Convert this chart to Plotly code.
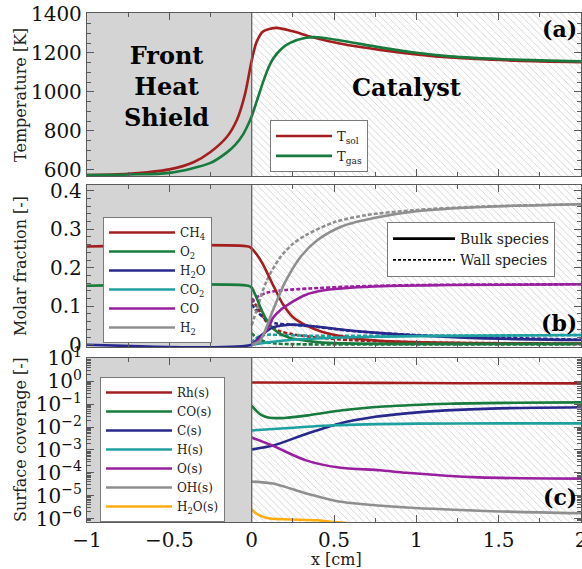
import numpy as np
import plotly.graph_objects as go
from plotly.subplots import make_subplots

# ---------------- (a) temperatures ----------------
x_tsol = [-1, -0.75, -0.5, -0.35, -0.25, -0.15, -0.09, -0.04, 0, 0.03, 0.07, 0.15, 0.25, 0.37, 0.55, 0.78, 1.0, 1.2, 1.6, 2.0]
t_sol = [574, 580, 603, 641, 692, 770, 856, 990, 1160, 1256, 1310, 1328, 1310, 1280, 1245, 1215, 1192, 1176, 1160, 1152]
x_tgas = [-1, -0.75, -0.5, -0.25, -0.15, -0.1, -0.05, -0.02, 0, 0.03, 0.067, 0.1, 0.13, 0.18, 0.23, 0.33, 0.4, 0.55, 0.78, 1.0, 1.2, 1.6, 2.0]
t_gas = [574, 577, 585, 636, 690, 728, 785, 835, 875, 950, 1045, 1120, 1170, 1220, 1250, 1277, 1280, 1262, 1228, 1200, 1182, 1165, 1156]

# ---------------- (b) molar fractions ----------------
x_ch4 = [-1, -0.02, 0, 0.03, 0.067, 0.13, 0.19, 0.25, 0.33, 0.43, 0.57, 0.78, 1.2, 2.0]
ch4_bulk = [0.255, 0.255, 0.25, 0.235, 0.21, 0.155, 0.105, 0.072, 0.05, 0.033, 0.02, 0.01, 0.005, 0.003]
x_ch4_w = [0, 0.03, 0.08, 0.12, 0.17, 0.25, 0.37, 0.6, 1.0, 2.0]
ch4_wall = [0.12, 0.10, 0.065, 0.045, 0.035, 0.027, 0.02, 0.012, 0.006, 0.003]

x_o2 = [-1, -0.02, 0, 0.025, 0.05, 0.09, 0.15, 0.23, 0.37, 0.5, 1.0, 2.0]
o2_bulk = [0.153, 0.153, 0.148, 0.127, 0.10, 0.065, 0.035, 0.018, 0.008, 0.004, 0.002, 0.002]
x_o2_w = [0, 0.03, 0.08, 0.15, 0.3, 2.0]
o2_wall = [0.03, 0.018, 0.008, 0.003, 0.001, 0.001]

x_h2o = [-1, 0, 0.03, 0.06, 0.13, 0.23, 0.33, 0.53, 0.78, 1.0, 1.38, 2.0]
h2o_bulk = [0, 0, 0.012, 0.025, 0.045, 0.052, 0.05, 0.04, 0.03, 0.024, 0.017, 0.012]
x_h2o_w = [0, 0.03, 0.06, 0.1, 0.15, 0.25, 0.4, 0.6, 1.0, 2.0]
h2o_wall = [0.105, 0.088, 0.075, 0.062, 0.055, 0.052, 0.046, 0.036, 0.025, 0.013]

x_co2 = [0, 0.05, 0.1, 0.2, 0.3, 0.5, 0.8, 1.2, 2.0]
co2_bulk = [0, 0.003, 0.006, 0.011, 0.014, 0.018, 0.021, 0.023, 0.025]
x_co2_w = [0, 0.03, 0.06, 0.1, 0.2, 0.4, 0.8, 2.0]
co2_wall = [0.005, 0.018, 0.024, 0.026, 0.025, 0.023, 0.023, 0.025]

x_co = [0, 0.04, 0.09, 0.13, 0.18, 0.23, 0.33, 0.45, 0.6, 0.8, 1.2, 2.0]
co_bulk = [0, 0.012, 0.037, 0.07, 0.092, 0.107, 0.13, 0.142, 0.148, 0.152, 0.155, 0.157]
x_co_w = [0, 0.02, 0.05, 0.1, 0.2, 0.35, 0.6, 1.0, 2.0]
co_wall = [0.11, 0.12, 0.128, 0.136, 0.142, 0.146, 0.151, 0.155, 0.157]

x_h2 = [0, 0.05, 0.13, 0.2, 0.3, 0.4, 0.55, 0.75, 1.0, 1.4, 2.0]
h2_bulk = [0, 0.01, 0.09, 0.16, 0.23, 0.272, 0.308, 0.33, 0.347, 0.358, 0.365]
x_h2_w = [0, 0.03, 0.09, 0.17, 0.25, 0.33, 0.5, 0.7, 1.0, 1.4, 2.0]
h2_wall = [0.05, 0.09, 0.165, 0.225, 0.262, 0.285, 0.318, 0.337, 0.35, 0.359, 0.365]

# ---------------- (c) surface coverages ----------------
x_rh = [0, 0.5, 1.0, 1.5, 2.0]
rh_s = [0.89, 0.87, 0.84, 0.82, 0.81]
x_cos = [0, 0.03, 0.06, 0.1, 0.2, 0.35, 0.55, 0.8, 1.2, 1.6, 2.0]
co_s = [8.7e-2, 5.0e-2, 3.3e-2, 2.6e-2, 2.5e-2, 3.3e-2, 5.4e-2, 7.9e-2, 1.05e-1, 1.15e-1, 1.2e-1]
x_cs = [0, 0.13, 0.33, 0.53, 0.75, 0.94, 1.18, 1.5, 2.0]
c_s = [1.05e-3, 1.55e-3, 5.0e-3, 1.41e-2, 2.82e-2, 3.98e-2, 5.37e-2, 6.6e-2, 7.4e-2]
x_hs = [0, 0.2, 0.5, 1.0, 1.5, 2.0]
h_s = [7.1e-3, 8.9e-3, 1.2e-2, 1.41e-2, 1.45e-2, 1.45e-2]
x_os = [0, 0.13, 0.33, 0.53, 0.78, 0.94, 1.38, 2.0]
o_s = [3.5e-3, 1.5e-3, 3.5e-4, 1.7e-4, 1.3e-4, 1.0e-4, 6.3e-5, 5.6e-5]
x_ohs = [0, 0.13, 0.33, 0.53, 0.9, 1.38, 2.0]
oh_s = [4.2e-5, 3.4e-5, 1.26e-5, 5.6e-6, 3.2e-6, 2.2e-6, 1.7e-6]
x_h2os = [0, 0.03, 0.09, 0.2, 0.4, 0.5, 1.0, 2.0]
h2o_s = [2.5e-6, 1.6e-6, 1.07e-6, 9.3e-7, 8.4e-7, 7.0e-7, 4e-7, 2e-7]

x_ticks = [-1, -0.5, 0, 0.5, 1, 1.5, 2]
x_ticktext = ["\u22121", "\u22120.5", "0", "0.5", "1", "1.5", "2"]
cov_exponents = [1, 0, -1, -2, -3, -4, -5, -6]

RED = "#a31f1f"
GREEN = "#187a3c"
BLUE = "#28288c"
CYAN = "#1fa0a0"
PURPLE = "#98209f"
GRAY = "#8f8f8f"
ORANGE = "#ffad10"

SERIF = "DejaVu Serif"
LW = 2.6

fig = make_subplots(rows=3, cols=1, shared_xaxes=False)


def hatch(row, y0, y1):
    fig.add_trace(go.Scatter(
        x=[0, 2.05, 2.05, 0, 0], y=[y0, y0, y1, y1, y0], mode="lines",
        fill="toself", fillcolor="white", line=dict(width=0),
        fillpattern=dict(shape="\\", fgcolor="#cccccc", bgcolor="white", size=5, solidity=0.16),
        showlegend=False, hoverinfo="skip"), row=row, col=1)


hatch(1, 0, 2000)
hatch(2, -1, 1)
hatch(3, 1e-9, 1e3)


def line(x, y, color, name, row, legend, dash="solid", show=True):
    fig.add_trace(go.Scatter(
        x=x, y=y, mode="lines", name=name, legend=legend, showlegend=show,
        line=dict(color=color, width=LW, dash=dash, shape="spline", smoothing=0.8)),
        row=row, col=1)


# panel (a)
line(x_tsol, t_sol, RED, "T<sub>sol</sub>", 1, "legend")
line(x_tgas, t_gas, GREEN, "T<sub>gas</sub>", 1, "legend")

# panel (b): wall species first (dashed), bulk on top
DASH = "4px,2px"
line(x_ch4_w, ch4_wall, RED, "CH4 wall", 2, "legend2", DASH, False)
line(x_o2_w, o2_wall, GREEN, "O2 wall", 2, "legend2", DASH, False)
line(x_h2o_w, h2o_wall, BLUE, "H2O wall", 2, "legend2", DASH, False)
line(x_co2_w, co2_wall, CYAN, "CO2 wall", 2, "legend2", DASH, False)
line(x_co_w, co_wall, PURPLE, "CO wall", 2, "legend2", DASH, False)
line(x_h2_w, h2_wall, GRAY, "H2 wall", 2, "legend2", DASH, False)
line(x_ch4, ch4_bulk, RED, "CH<sub>4</sub>", 2, "legend2")
line(x_o2, o2_bulk, GREEN, "O<sub>2</sub>", 2, "legend2")
line(x_h2o, h2o_bulk, BLUE, "H<sub>2</sub>O", 2, "legend2")
line(x_co2, co2_bulk, CYAN, "CO<sub>2</sub>", 2, "legend2")
line(x_co, co_bulk, PURPLE, "CO", 2, "legend2")
line(x_h2, h2_bulk, GRAY, "H<sub>2</sub>", 2, "legend2")
fig.add_trace(go.Scatter(x=[None], y=[None], mode="lines", name="Bulk species", legend="legend3",
                         line=dict(color="black", width=LW)), row=2, col=1)
fig.add_trace(go.Scatter(x=[None], y=[None], mode="lines", name="Wall species", legend="legend3",
                         line=dict(color="black", width=1.8, dash="3px,2px")), row=2, col=1)

# panel (c)
line(x_rh, rh_s, RED, "Rh(s)", 3, "legend4")
line(x_cos, co_s, GREEN, "CO(s)", 3, "legend4")
line(x_cs, c_s, BLUE, "C(s)", 3, "legend4")
line(x_hs, h_s, CYAN, "H(s)", 3, "legend4")
line(x_os, o_s, PURPLE, "O(s)", 3, "legend4")
line(x_ohs, oh_s, GRAY, "OH(s)", 3, "legend4")
line(x_h2os, h2o_s, ORANGE, "H<sub>2</sub>O(s)", 3, "legend4")

FRAME = "#5a5a5a"
axis_common = dict(showline=True, linecolor=FRAME, linewidth=1.3, mirror="allticks",
                   ticks="inside", ticklen=7, tickwidth=1.1, tickcolor=FRAME,
                   showgrid=False, zeroline=False, automargin=False,
                   tickfont=dict(family=SERIF, size=20, color="#111"))

H_TOP, H_BOT = 13, 47
plot_h = 569 - H_TOP - H_BOT


def dom(top_px, bot_px):
    return [(569 - H_BOT - bot_px) / plot_h, (569 - H_BOT - top_px) / plot_h]


def py(pixel_y):
    return (569 - H_BOT - pixel_y) / plot_h


def px(pixel_x):
    return (pixel_x - 87) / 494


for i, (t, b) in enumerate([(13, 176), (185, 347), (358, 522)], start=1):
    sfx = "" if i == 1 else str(i)
    fig.layout["xaxis" + sfx].update(
        domain=[0, 1], range=[-1, 2], tickvals=x_ticks, ticktext=x_ticktext,
        showticklabels=(i == 3), ticklabeloverflow="allow",
        minor=dict(ticks="inside", ticklen=4, tickcolor=FRAME, dtick=0.25, tick0=0),
        **axis_common)
    fig.layout["yaxis" + sfx].update(domain=dom(t, b), **axis_common)

fig.layout.yaxis.update(range=[569, 1404], tickvals=[600, 800, 1000, 1200, 1400],
                        minor=dict(ticks="inside", ticklen=4, tickcolor=FRAME, dtick=50, tick0=0))
fig.layout.yaxis2.update(range=[-0.006, 0.415], tickvals=[0, 0.1, 0.2, 0.3, 0.4],
                         ticktext=["0", "0.1", "0.2", "0.3", "0.4"],
                         minor=dict(ticks="inside", ticklen=4, tickcolor=FRAME, dtick=0.02, tick0=0))
minor_log = [m * 10.0 ** k for k in range(-7, 2) for m in range(2, 10)]
fig.layout.yaxis3.update(type="log", range=[-6.15, 1.02],
                         tickvals=[10.0 ** e for e in cov_exponents],
                         ticktext=["10<sup>%s</sup>" % (str(e).replace("-", "\u2212")) for e in cov_exponents],
                         minor=dict(ticks="inside", ticklen=4, tickcolor=FRAME, tickvals=minor_log))

# shield region and interface line
for i in (1, 2, 3):
    sfx = "" if i == 1 else str(i)
    fig.add_shape(type="rect", xref="x" + sfx, yref="y" + sfx + " domain", x0=-1, x1=0, y0=0, y1=1,
                  fillcolor="#d4d4d4", line=dict(width=0), layer="below")
    fig.add_shape(type="line", xref="x" + sfx, yref="y" + sfx + " domain", x0=0, x1=0, y0=0, y1=1,
                  line=dict(color="#6a6a6a", width=1.4), layer="above")

bold = dict(family=SERIF, size=24, color="black")
fig.add_annotation(text="<b>Front<br>Heat<br>Shield</b>", x=-0.52, y=1028, xref="x", yref="y",
                   showarrow=False, font=bold, xanchor="center", yanchor="middle")
fig.add_annotation(text="<b>Catalyst</b>", x=0.94, y=1020, xref="x", yref="y",
                   showarrow=False, font=bold, xanchor="center", yanchor="middle")
for lab, ax, yv in [("(a)", "", 0.9), ("(b)", "2", 0.15), ("(c)", "3", 0.15)]:
    fig.add_annotation(text="<b>%s</b>" % lab, x=0.995, y=yv, xref="x%s domain" % ax,
                       yref="y%s domain" % ax, xanchor="right", yanchor="middle",
                       showarrow=False, font=dict(family=SERIF, size=22, color="black"))

title_font = dict(family=SERIF, size=16, color="#222")
for txt, pyv in [("Temperature [K]", 95), ("Molar fraction [-]", 266), ("Surface coverage [-]", 440)]:
    fig.add_annotation(text=txt, textangle=-90, x=px(20), y=py(pyv),
                       xref="paper", yref="paper", showarrow=False, font=title_font,
                       xanchor="center", yanchor="middle")
fig.add_annotation(text="x [cm]", x=px(336), y=py(559), xref="paper", yref="paper",
                   showarrow=False, font=title_font, xanchor="center", yanchor="middle")

leg = dict(bgcolor="white", bordercolor="#7a7a7a", borderwidth=1,
           xanchor="left", yanchor="top", tracegroupgap=0)
small = dict(family=SERIF, size=12, color="#222")
fig.update_layout(
    width=582, height=569, template="none",
    paper_bgcolor="white", plot_bgcolor="white",
    margin=dict(l=87, r=1, t=H_TOP, b=H_BOT),
    legend=dict(x=px(270), y=py(120), itemwidth=56, font=dict(family=SERIF, size=13, color="#222"), **leg),
    legend2=dict(x=px(103), y=py(217), itemwidth=66, font=small, **leg),
    legend3=dict(x=px(387), y=py(222), itemwidth=62, font=dict(family=SERIF, size=14, color="#222"), **leg),
    legend4=dict(x=px(100), y=py(377), itemwidth=66, font=small, **leg),
)

fig.write_html("out.html")
